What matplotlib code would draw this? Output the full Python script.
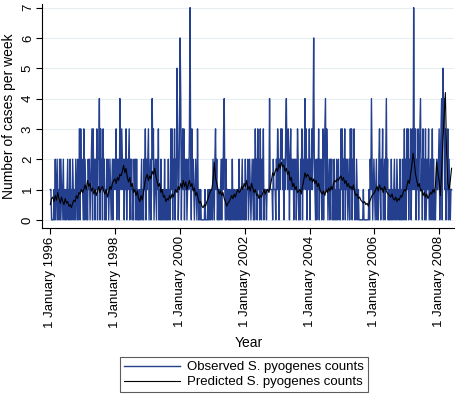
import numpy as np
import pandas as pd
import matplotlib
matplotlib.use("Agg")
import matplotlib.pyplot as plt

# weekly observed counts, one line per year
observed_counts = (
    "1100001020120" "1020210120101" "0120102010210" "1021020130312"  # 1996
    "1030210102120" "1230312021302" "2403120312010" "2120121012021"  # 1997
    "2130212042132" "1202130212302" "1201021202010" "0101201021302"  # 1998
    "1230120142301" "2102130102010" "1020101020103" "1302130215301"  # 1999
    "3640231302120" "1213720312101" "2103101010000" "0010000100101"  # 2000
    "1021023120101" "0120213410201" "1010010201010" "0101020101201"  # 2001
    "1020112012101" "2102031203120" "3102130111011" "1141111021110"  # 2002
    "2132021323120" "2134213202312" "1202120132010" "2130212413021"  # 2003
    "1302131362102" "0213021201302" "3413201202120" "1020102012010"  # 2004
    "3130213021201" "2031302130102" "1010000000100" "0000001021420"  # 2005
    "1210120102310" "2130120241201" "0102010120102" "1010201020130"  # 2006
    "2031302130231" "7213021302341" "2031203012130" "1201302010121"  # 2007
    "12302340534130113021011"                                        # 2008
)

# predicted counts, every two weeks
predicted_counts = [
    0.5, 0.7, 0.75, 0.6, 0.8, 0.65, 0.9, 0.7, 0.55, 0.75, 0.6, 0.5, 0.7, 0.55, 0.6, 0.45, 0.5, 0.4, 0.55, 0.65, 0.6, 0.8, 0.7, 0.9, 0.85, 1.0,
    0.9, 1.0, 1.15, 1.0, 1.3, 1.1, 1.2, 0.95, 1.05, 0.85, 1.0, 0.8, 0.95, 1.1, 0.9, 1.05, 1.1, 0.95, 0.85, 1.0, 0.75, 0.9, 1.1, 1.0, 1.2, 1.3,
    1.35, 1.2, 1.4, 1.3, 1.5, 1.45, 1.6, 1.8, 1.55, 1.7, 1.4, 1.25, 1.4, 1.1, 1.2, 0.9, 1.0, 0.8, 0.95, 0.7, 0.6, 0.8, 0.65, 0.9, 1.2, 1.4,
    1.5, 1.3, 1.45, 1.35, 1.6, 1.5, 1.7, 1.45, 1.25, 1.1, 1.2, 0.9, 1.0, 0.75, 0.8, 0.6, 0.7, 0.65, 0.8, 0.7, 0.85, 0.75, 0.9, 1.0, 0.9, 1.1,
    1.0, 1.2, 1.05, 1.3, 1.1, 1.25, 1.0, 1.15, 1.3, 1.1, 1.2, 0.95, 1.05, 0.8, 0.9, 0.7, 0.55, 0.6, 0.45, 0.4, 0.5, 0.45, 0.6, 0.7, 0.85, 0.95,
    1.0, 1.3, 1.9, 1.4, 1.2, 1.0, 0.85, 0.95, 0.8, 0.9, 0.7, 0.6, 0.45, 0.55, 0.6, 0.7, 0.8, 0.7, 0.85, 0.75, 0.9, 1.0, 0.9, 0.95, 1.1, 1.0,
    1.2, 1.1, 1.3, 1.0, 1.1, 0.95, 1.2, 1.05, 0.9, 1.0, 0.8, 0.85, 0.7, 0.8, 0.75, 0.9, 1.0, 0.85, 0.95, 1.0, 0.9, 1.1, 1.3, 1.55, 1.45, 1.6,
    1.7, 1.6, 1.85, 1.7, 1.9, 1.75, 1.8, 1.6, 1.7, 1.5, 1.6, 1.3, 1.4, 1.1, 1.2, 1.0, 1.1, 0.9, 0.95, 1.0, 0.85, 1.1, 1.3, 1.55, 1.4, 1.5,
    1.45, 1.3, 1.4, 1.25, 1.35, 1.2, 1.3, 1.1, 1.2, 1.0, 0.9, 0.85, 0.95, 0.8, 1.0, 0.9, 1.05, 0.95, 1.1, 1.0, 1.2, 1.3, 1.25, 1.35, 1.3, 1.4,
    1.45, 1.3, 1.4, 1.2, 1.3, 1.1, 1.2, 1.05, 1.1, 1.0, 1.15, 0.9, 0.8, 0.85, 0.7, 0.75, 0.65, 0.6, 0.55, 0.6, 0.5, 0.55, 0.45, 0.6, 0.7, 0.8,
    0.85, 0.9, 1.0, 1.1, 0.95, 1.15, 1.0, 1.05, 0.9, 1.1, 1.0, 0.9, 0.85, 0.8, 0.75, 0.85, 0.7, 0.65, 0.75, 0.6, 0.7, 0.65, 0.8, 0.75, 0.9, 1.0,
    0.95, 1.1, 1.3, 1.2, 1.5, 1.8, 2.2, 1.9, 1.5, 1.3, 1.1, 1.2, 0.95, 1.0, 0.8, 0.9, 0.75, 0.85, 0.7, 0.8, 0.9, 0.85, 1.0, 0.9, 1.1, 1.9,
    1.55, 1.3, 0.8, 1.6, 2.6, 3.4, 4.2, 2.2, 1.2, 1.0, 1.3, 1.7,
]

tick_years = [1996, 1998, 2000, 2002, 2004, 2006, 2008]
tick_labels = ["1 January %d" % y for y in tick_years]
series_labels = ["Observed S. pyogenes counts", "Predicted S. pyogenes counts"]

obs = np.array([int(c) for c in observed_counts])
obs_dates = pd.date_range("1996-01-01", periods=len(obs), freq="7D")
pred_dates = pd.date_range("1996-01-01", periods=len(predicted_counts), freq="14D")

plt.rcParams["font.family"] = ["Liberation Sans", "DejaVu Sans"]

fig = plt.figure(figsize=(4.59, 4.0), dpi=100)
ax = fig.add_axes([0.092, 0.43, 0.898, 0.56])

l1, = ax.plot(obs_dates, obs, color="#233f8e", lw=1.0)
l2, = ax.plot(pred_dates, predicted_counts, color="black", lw=0.8)

ax.set_ylim(-0.27, 7.12)
ax.set_xlim(pd.Timestamp("1995-10-02"), pd.Timestamp("2008-06-20"))
ax.set_yticks(range(8))
ax.set_yticklabels([str(i) for i in range(8)], rotation=90, va="center", fontsize=9.5)
ax.set_xticks([pd.Timestamp("%d-01-01" % y) for y in tick_years])
ax.set_xticklabels(tick_labels, rotation=90, fontsize=9.5)
ax.grid(axis="y", color="#e7edf0", lw=0.8)
ax.set_axisbelow(True)
for s in ["top", "right"]:
    ax.spines[s].set_visible(False)
ax.tick_params(length=4, width=0.8, pad=2)
ax.set_ylabel("Number of cases per week", fontsize=10, labelpad=4)
ax.set_xlabel("Year", fontsize=10, labelpad=6)

leg = fig.legend([l1, l2], series_labels, loc="lower center", bbox_to_anchor=(0.532, 0.003),
                 fontsize=9.5, handlelength=4.2, frameon=True, fancybox=False,
                 borderpad=0.3, labelspacing=0.2, handletextpad=0.6)
leg.get_frame().set_edgecolor("#333333")
leg.get_frame().set_linewidth(0.8)

fig.savefig("out.png", dpi=100)
